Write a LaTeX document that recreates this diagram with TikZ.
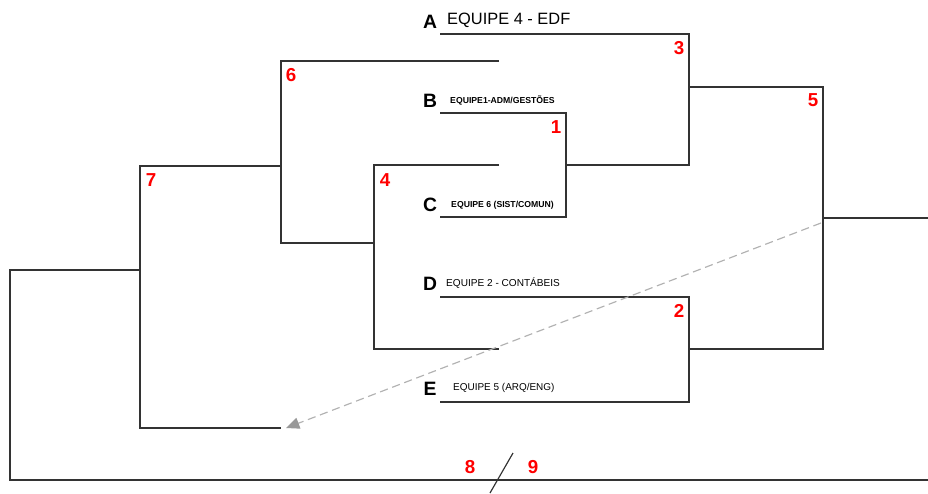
\documentclass[tikz,border=0pt]{standalone}
\usepackage{fontspec}
\setmainfont{Liberation Sans}
\usetikzlibrary{arrows.meta}

\begin{document}
\begin{tikzpicture}[
    x=0.03cm, y=-0.03cm,
    line/.style={draw=black!80, line width=1pt},
    letter/.style={inner sep=0pt, font=\bfseries\fontsize{16.5}{18}\selectfont},
    team/.style={anchor=west, inner sep=0pt},
    round/.style={text=red, inner sep=0pt, font=\bfseries\fontsize{16}{18}\selectfont},
    hint/.style={draw=black!30, line width=1pt, dash pattern=on 7pt off 4pt,
        -{Triangle[length=4mm, width=3.4mm, color=black!40, fill=black!40]}}
]
    \useasboundingbox (0,0) rectangle (928,493);

    % Teams (start of each first line)
    \coordinate (tA) at (440,34);
    \coordinate (tB) at (440,113);
    \coordinate (tC) at (440,217);
    \coordinate (tD) at (440,297);
    \coordinate (tE) at (440,402);

    % Winners of each round
    \coordinate (r1) at (566,165);
    \coordinate (r2) at (689,349);
    \coordinate (r3) at (689,87);
    \coordinate (r4) at (374,243);
    \coordinate (r5) at (823,218);
    \coordinate (r6) at (281,166);
    \coordinate (r7) at (140,270);
    \coordinate (r8) at (10,480);

    % Open ends
    \coordinate (s4a) at (499,165);
    \coordinate (s4b) at (499,349);
    \coordinate (s6) at (499,61);
    \coordinate (s7) at (281,428);
    \coordinate (f5) at (928,218);
    \coordinate (f8) at (928,480);

    % Brackets
    \draw[line] (tB) -| (r1) |- (tC);
    \draw[line] (tA) -| (r3) |- (r1);
    \draw[line] (tD) -| (r2) |- (tE);
    \draw[line] (r3) -| (r5) |- (r2);
    \draw[line] (r5) -- (f5);
    \draw[line] (s4a) -| (r4) |- (s4b);
    \draw[line] (s6) -| (r6) |- (r4);
    \draw[line] (r6) -| (r7) |- (s7);
    \draw[line] (r7) -| (r8) -- (f8);

    % Cut mark
    \coordinate (cut1) at (490,493);
    \coordinate (cut2) at (513,453);
    \draw[line] (cut1) -- (cut2);

    % Team labels
    \node[letter] (lA) at (430,22) {A};
    \node[letter] (lB) at (430,101) {B};
    \node[letter] (lC) at (430,205) {C};
    \node[letter] (lD) at (430,284) {D};
    \node[letter] (lE) at (430,389) {E};
    \node[team, font=\fontsize{14}{16}\selectfont] (nA) at (447,20) {EQUIPE 4 - EDF};
    \node[team, font=\bfseries\fontsize{7.4}{8}\selectfont] (nB) at (450,100) {EQUIPE1-ADM/GESTÕES};
    \node[team, font=\bfseries\fontsize{7.4}{8}\selectfont] (nC) at (451,205) {EQUIPE 6 (SIST/COMUN)};
    \node[team, font=\fontsize{8.6}{9}\selectfont] (nD) at (446,283) {EQUIPE 2 - CONTÁBEIS};
    \node[team, font=\fontsize{8.5}{9}\selectfont] (nE) at (453,388) {EQUIPE 5 (ARQ/ENG)};

    % Round numbers
    \foreach \name/\x/\y in {1/556/127, 2/679/311, 3/679/48, 4/385/180, 5/813/100,
        6/291/75, 7/151/180, 8/470/467, 9/533/467} {
        \node[round] (n\name) at (\x,\y) {\name};
    }

    % Hint arrow
    \coordinate (h1) at (821,223);
    \coordinate (h2) at (286,428);
    \draw[hint] (h1) -- (h2);
\end{tikzpicture}
\end{document}
